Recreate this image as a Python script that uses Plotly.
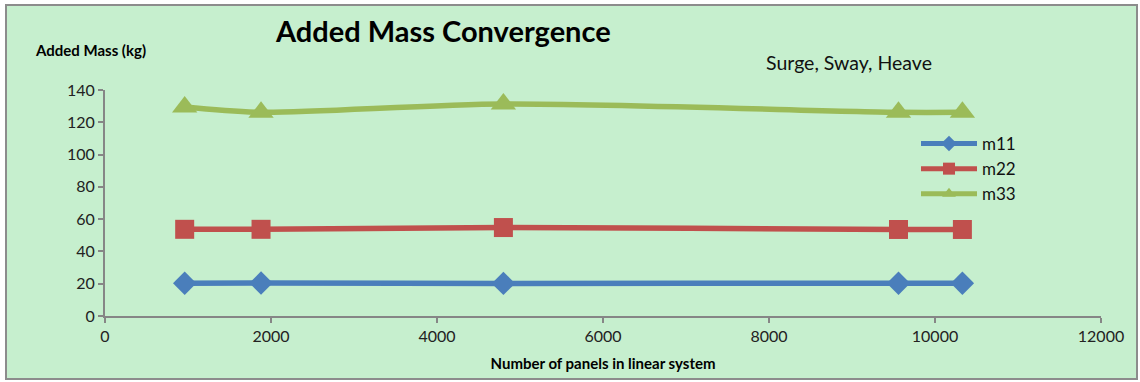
import plotly.graph_objects as go

panels = [960, 1880, 4800, 9560, 10330]
m11 = [20.3, 20.4, 20.2, 20.3, 20.3]
m22 = [53.7, 53.7, 54.8, 53.6, 53.6]
m33 = [129.5, 126.2, 131.3, 126.2, 126.2]
xticks = [0, 2000, 4000, 6000, 8000, 10000, 12000]
yticks = [0, 20, 40, 60, 80, 100, 120, 140]

series = [
    ("m11", m11, "#4A7EBB", "diamond", 18),
    ("m22", m22, "#C0504D", "square", 19),
    ("m33", m33, "#9BBB59", "triangle-up", 22),
]

FONT = "Lato"
W, H = 1140, 382
L, R, T, B = 105, 39, 90, 66
pw, ph = W - L - R, H - T - B

def px(x):
    return (x - L) / pw

def py(y):
    return (H - B - y) / ph

fig = go.Figure()
for name, vals, color, sym, size in series:
    fig.add_trace(go.Scatter(
        x=panels, y=vals, name=name, mode="lines+markers",
        line=dict(color=color, width=5.5, shape="spline", smoothing=0.8),
        marker=dict(symbol=sym, size=size, color=color),
    ))

fig.update_layout(
    width=W, height=H,
    margin=dict(l=L, r=R, t=T, b=B),
    paper_bgcolor="white",
    plot_bgcolor="rgba(0,0,0,0)",
    font=dict(family=FONT, color="#222222", size=16),
    showlegend=True,
    legend=dict(
        x=px(916), y=py(126), xanchor="left", yanchor="top",
        bgcolor="rgba(0,0,0,0)", font=dict(size=17, family=FONT, color="#111"),
        itemwidth=56, tracegroupgap=0, itemsizing="constant",
    ),
    xaxis=dict(
        range=[0, 12000], tickvals=xticks, ticktext=[str(v) for v in xticks],
        showgrid=False, zeroline=False, showline=True, linecolor="#868686", linewidth=2,
        ticks="outside", ticklen=5, tickcolor="#868686", tickwidth=2,
        tickfont=dict(size=16, family=FONT),
        title=dict(text="<b>Number of panels in linear system</b>", font=dict(size=15, family=FONT, color="#000"), standoff=14),
    ),
    yaxis=dict(
        range=[0, 140], tickvals=yticks, ticktext=[str(v) for v in yticks],
        showgrid=False, zeroline=False, showline=True, linecolor="#868686", linewidth=2,
        ticks="outside", ticklen=5, tickcolor="#868686", tickwidth=2,
        tickfont=dict(size=16, family=FONT),
    ),
    shapes=[dict(
        type="rect", xref="paper", yref="paper", layer="below",
        x0=px(6), x1=px(1137), y0=py(379), y1=py(5),
        fillcolor="#C6EFCE", line=dict(color="#8C8C8C", width=2),
    )],
    annotations=[
        dict(text="<b>Added Mass Convergence</b>", xref="paper", yref="paper",
             x=px(443), y=py(31), xanchor="center", yanchor="middle", showarrow=False,
             font=dict(size=29, family=FONT, color="#000")),
        dict(text="<b>Added Mass (kg)</b>", xref="paper", yref="paper",
             x=px(33), y=py(50), xanchor="left", yanchor="middle", showarrow=False,
             font=dict(size=15, family=FONT, color="#000")),
        dict(text="Surge, Sway, Heave", xref="paper", yref="paper",
             x=px(764), y=py(63), xanchor="left", yanchor="middle", showarrow=False,
             font=dict(size=19.5, family=FONT, color="#111")),
    ],
)

fig.write_html("out.html")
